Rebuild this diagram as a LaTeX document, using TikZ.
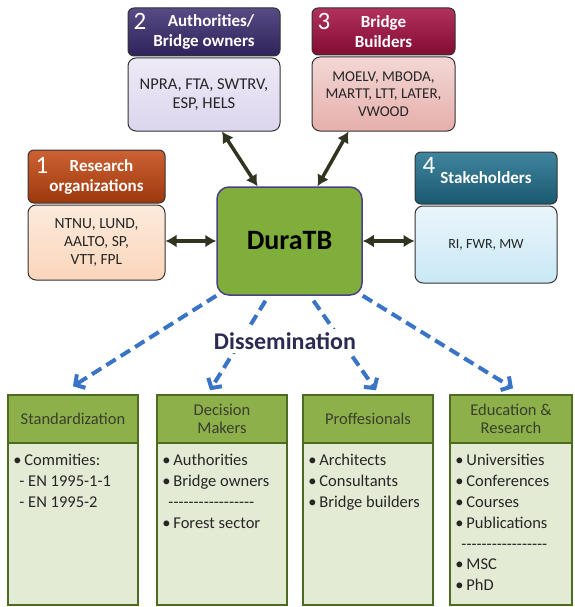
\documentclass[tikz,border=0pt]{standalone}
\usepackage{fontspec}
\setmainfont{Carlito}
\usetikzlibrary{arrows.meta}

\definecolor{reshd}{HTML}{C4460F}
\definecolor{resbd}{HTML}{FAD6BA}
\definecolor{authd}{HTML}{3A2B70}
\definecolor{autbd}{HTML}{DCD5EE}
\definecolor{bldhd}{HTML}{A30D40}
\definecolor{bldbd}{HTML}{E6AFAB}
\definecolor{stkhd}{HTML}{1F6F8C}
\definecolor{stkbd}{HTML}{C9E8F5}
\definecolor{duragreen}{HTML}{80AE3A}
\definecolor{duraedge}{HTML}{4A3F88}
\definecolor{linkdark}{HTML}{30351F}
\definecolor{dissblue}{HTML}{3A74C6}
\definecolor{disstext}{HTML}{2B2A52}
\definecolor{secgreen}{HTML}{8DB04A}
\definecolor{secedge}{HTML}{4E6B22}
\definecolor{seclight}{HTML}{E3EBD5}
\definecolor{sectext}{HTML}{3A3F2E}

\newcommand{\hyrow}[1]{\foreach \k in {1,...,#1}{-}}

\tikzset{
  hdbox/.style={draw=black!80, line width=1pt, rounded corners=6pt,
    text=white, font=\fontsize{17}{20}\selectfont\bfseries,
    align=center, inner sep=0pt},
  bdbox/.style={draw=black!80, line width=1pt, rounded corners=8pt,
    text=black!85, align=center, inner sep=0pt},
  nmbr/.style={text=white, font=\fontsize{25}{25}\selectfont, inner sep=0pt},
  link/.style={line width=3.5pt, draw=linkdark,
    {Latex[length=11pt,width=13pt]}-{Latex[length=11pt,width=13pt]}},
  spread/.style={line width=4pt, draw=dissblue, dash pattern=on 11pt off 6pt,
    -{Straight Barb[length=7pt,width=16pt]}},
  sechd/.style={draw=secedge, line width=1.5pt, fill=secgreen, text=sectext,
    font=\fontsize{16.5}{18.5}\selectfont, align=center, inner sep=0pt,
    minimum height=48pt},
  secbd/.style={draw=secedge, line width=1.5pt, fill=seclight,
    inner sep=0pt, minimum height=162pt},
  seclist/.style={anchor=north west, align=left, text=black!85,
    font=\fontsize{16.5}{20.8}\selectfont, inner sep=0pt}
}

\begin{document}
\begin{tikzpicture}[x=1pt,y=-1pt]
\useasboundingbox (0,0) rectangle (574,607);
\fill[white] (0,0) rectangle (574,607);

\node[hdbox, top color=reshd!85!white, bottom color=reshd!80!black,
  minimum width=137pt, minimum height=53pt] (hd1) at (96.5,176.5)
  {\hspace*{10pt}Research\\organizations};
\node[bdbox, top color=resbd!50!white, bottom color=resbd,
  font=\fontsize{15.5}{18}\selectfont,
  minimum width=137pt, minimum height=75pt] (bd1) at (96.5,242.5)
  {NTNU, LUND,\\AALTO, SP,\\VTT, FPL};
\node[nmbr] (n1) at (42,165) {1};

\node[hdbox, top color=authd!85!white, bottom color=authd!80!black,
  minimum width=152pt, minimum height=48pt] (hd2) at (204,32)
  {\hspace*{14pt}Authorities/\\Bridge owners};
\node[bdbox, top color=autbd!50!white, bottom color=autbd,
  font=\fontsize{16.5}{19}\selectfont,
  minimum width=152pt, minimum height=73pt] (bd2) at (204,94.5)
  {NPRA, FTA, SWTRV,\\ESP, HELS};
\node[nmbr] (n2) at (140,21) {2};

\node[hdbox, top color=bldhd!85!white, bottom color=bldhd!80!black,
  minimum width=143pt, minimum height=47pt] (hd3) at (383.5,31.5)
  {Bridge\\Builders};
\node[bdbox, top color=bldbd!50!white, bottom color=bldbd,
  font=\fontsize{15}{17.5}\selectfont,
  minimum width=143pt, minimum height=74pt] (bd3) at (383.5,94)
  {MOELV, MBODA,\\MARTT, LTT, LATER,\\VWOOD};
\node[nmbr] (n3) at (324,21) {3};

\node[hdbox, top color=stkhd!85!white, bottom color=stkhd!80!black,
  minimum width=142pt, minimum height=52pt] (hd4) at (486,178)
  {Stakeholders};
\node[bdbox, top color=stkbd!40!white, bottom color=stkbd,
  font=\fontsize{14}{16}\selectfont,
  minimum width=142pt, minimum height=77pt] (bd4) at (486,244.5)
  {RI, FWR, MW};
\node[nmbr] (n4) at (429,165) {4};

\node[draw=duraedge, line width=1.5pt, fill=duragreen, rounded corners=12pt,
  minimum width=145pt, minimum height=108pt, inner sep=0pt,
  font=\fontsize{28}{28}\selectfont\bfseries] (dura) at (289.5,241) {DuraTB};

\draw[link] ([xshift=18pt]bd2.south) -- ([xshift=-32pt]dura.north);
\draw[link] ([xshift=-35pt]bd3.south) -- ([xshift=28pt]dura.north);
\draw[link] (dura.west -| bd1.east) -- (dura.west);
\draw[link] (dura.east) -- (dura.east -| bd4.west);

% dissemination targets
\node[sechd, minimum width=130pt] (sh1) at (73,419) {Standardization};
\node[secbd, minimum width=130pt] (sb1) at (73,524) {};
\node[sechd, minimum width=130pt] (sh2) at (222,419) {Decision\\Makers};
\node[secbd, minimum width=130pt] (sb2) at (222,524) {};
\node[sechd, minimum width=130pt] (sh3) at (368,419) {Proffesionals};
\node[secbd, minimum width=130pt] (sb3) at (368,524) {};
\node[sechd, minimum width=122pt] (sh4) at (511,419) {Education \&\\Research};
\node[secbd, minimum width=122pt] (sb4) at (511,524) {};

\node[seclist] (sl1) at ([xshift=6pt,yshift=-12pt]sb1.north west)
  {\textbullet\,Commities:\\\hspace*{6pt}- EN 1995-1-1\\\hspace*{6pt}- EN 1995-2};
\node[seclist] (sl2) at ([xshift=6pt,yshift=-12pt]sb2.north west)
  {\textbullet\,Authorities\\\textbullet\,Bridge owners\\
   \hspace*{6pt}\hyrow{17}\\\textbullet\,Forest sector};
\node[seclist] (sl3) at ([xshift=6pt,yshift=-12pt]sb3.north west)
  {\textbullet\,Architects\\\textbullet\,Consultants\\\textbullet\,Bridge builders};
\node[seclist] (sl4) at ([xshift=6pt,yshift=-12pt]sb4.north west)
  {\textbullet\,Universities\\\textbullet\,Conferences\\\textbullet\,Courses\\
   \textbullet\,Publications\\\hspace*{6pt}\hyrow{17}\\\textbullet\,MSC\\\textbullet\,PhD};

\draw[spread] (dura.south west) -- ([yshift=8pt]sh1.north);
\draw[spread] ([xshift=-24pt,yshift=-5pt]dura.south) -- ([xshift=-12pt,yshift=4pt]sh2.north);
\draw[spread] ([xshift=24pt,yshift=-5pt]dura.south) -- ([xshift=8pt,yshift=4pt]sh3.north);
\draw[spread] (dura.south east) -- ([xshift=2pt,yshift=6pt]sh4.north);

\node[fill=white, inner sep=3pt, text=disstext,
  font=\fontsize{24}{24}\selectfont\bfseries] (diss) at (285,341) {Dissemination};
\end{tikzpicture}
\end{document}
